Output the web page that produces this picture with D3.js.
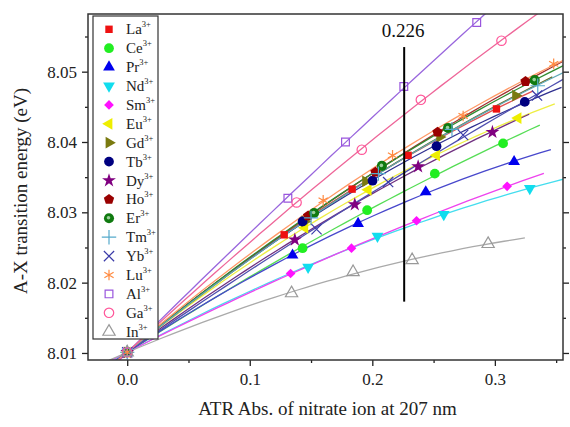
<!DOCTYPE html>
<html><head><meta charset="utf-8">
<script src="https://cdn.jsdelivr.net/npm/d3@7"></script>
<style>body{margin:0;background:#fff}svg{display:block}</style>
</head><body>
<svg id="c" width="570" height="427"></svg>
<script>
const seriesNames = ["La","Ce","Pr","Nd","Sm","Eu","Gd","Tb","Dy","Ho","Er","Tm","Yb","Lu","Al","Ga","In"];
const seriesX = [
  [0,0.1281,0.1835,0.2292,0.3013],
  [0,0.1431,0.1958,0.2510,0.3067],
  [0,0.1349,0.1884,0.2436,0.3157],
  [0,0.1476,0.2042,0.2583,0.3285],
  [0,0.1333,0.1830,0.2361,0.3100],
  [0,0.1449,0.1966,0.2524,0.3189],
  [0,0.1449,0.1945,0.2550,0.3169],
  [0,0.1431,0.2002,0.2524,0.3244],
  [0,0.1368,0.1857,0.2374,0.2980],
  [0,0.1476,0.2026,0.2532,0.3250],
  [0,0.1525,0.2078,0.2618,0.3325],
  [0,0.1500,0.2050,0.2650,0.3350],
  [0,0.1545,0.2129,0.2741,0.3344],
  [0,0.1599,0.2165,0.2741,0.3480],
  [0,0.1311,0.1781,0.2257,0.2852],
  [0,0.1382,0.1914,0.2396,0.3054],
  [0,0.1341,0.1843,0.2325,0.2945]
];
const seriesY = [
  [8.0101,8.0268,8.0333,8.0381,8.0447],
  [8.0101,8.0249,8.0303,8.0355,8.0398],
  [8.0101,8.0239,8.0284,8.0329,8.0372],
  [8.0101,8.0222,8.0266,8.0297,8.0334],
  [8.0101,8.0213,8.0249,8.0288,8.0337],
  [8.0101,8.0278,8.0332,8.0381,8.0434],
  [8.0101,8.0287,8.0344,8.0407,8.0466],
  [8.0101,8.0287,8.0345,8.0394,8.0457],
  [8.0101,8.0261,8.0311,8.0365,8.0414],
  [8.0101,8.0295,8.0357,8.0414,8.0486],
  [8.0101,8.0299,8.0366,8.0420,8.0488],
  [8.0101,8.0292,8.0355,8.0418,8.0480],
  [8.0101,8.0276,8.0343,8.0410,8.0466],
  [8.0101,8.0317,8.0381,8.0437,8.0511],
  [8.0101,8.0320,8.0400,8.0479,8.0570],
  [8.0101,8.0314,8.0389,8.0460,8.0544],
  [8.0101,8.0185,8.0215,8.0232,8.0255]
];
const markerColors = ["#ee1111","#22ee22","#0000ee","#11ddee","#ff11ff","#eeee00","#7a7a10","#000080","#800080","#990000","#107a10","#55aacc","#3a3aa8","#ff8a40","#9955dd","#ff5599","#999999"];
const lineColors   = ["#e05050","#55dd55","#4848cc","#44ddee","#ee44ee","#eeee44","#6a6a20","#303090","#703080","#a03030","#308a30","#60a8b8","#5050b0","#ff9966","#9966dd","#ee6699","#aaaaaa"];
const xTicks = [0.0,0.1,0.2,0.3];
const yTicks = [8.01,8.02,8.03,8.04,8.05];
const markLineX = 0.226;
const markLineY = [8.0173, 8.0535];

const svg = d3.select("#c");
const L=88,R=563,T=14,B=360;
const x = d3.scaleLinear().domain([-0.032,0.3556]).range([L,R]);
const y = d3.scaleLinear().domain([8.009,8.0582]).range([B,T]);
const font = "'Liberation Serif','Times New Roman',serif";

svg.append("defs").append("clipPath").attr("id","clip")
  .append("rect").attr("x",L).attr("y",T).attr("width",R-L).attr("height",B-T);

// axes
const fmtX = d3.format(".1f"), fmtY = d3.format(".2f");
const xAx = svg.append("g").attr("transform",`translate(0,${B})`)
  .call(d3.axisBottom(x).tickValues(xTicks).tickFormat(fmtX).tickSize(6).tickPadding(7));
const xMin = svg.append("g").attr("transform",`translate(0,${B})`)
  .call(d3.axisBottom(x).tickValues([-0.05,0.05,0.15,0.25,0.35].filter(v=>v>=-0.032)).tickFormat("").tickSize(3));
const yAx = svg.append("g").attr("transform",`translate(${L},0)`)
  .call(d3.axisLeft(y).tickValues(yTicks).tickFormat(fmtY).tickSize(6).tickPadding(5));
const yMin = svg.append("g").attr("transform",`translate(${L},0)`)
  .call(d3.axisLeft(y).tickValues([8.015,8.025,8.035,8.045,8.055]).tickFormat("").tickSize(3));
const yR = svg.append("g").attr("transform",`translate(${R},0)`)
  .call(d3.axisRight(y).tickValues(yTicks).tickFormat("").tickSize(6));
const yRm = svg.append("g").attr("transform",`translate(${R},0)`)
  .call(d3.axisRight(y).tickValues([8.015,8.025,8.035,8.045,8.055]).tickFormat("").tickSize(3));
[xAx,xMin,yAx,yMin,yR,yRm].forEach(g=>{
  g.select(".domain").remove();
  g.selectAll("line").attr("stroke","#222").attr("stroke-width",1.3);
  g.selectAll("text").attr("font-family",font).attr("font-size",17).attr("fill","#222");
});

// fit curves (quadratic least squares through the points)
function quadFit(xs,ys){
  let S=[0,0,0,0,0],Ty=[0,0,0];
  xs.forEach((xv,i)=>{for(let k=0;k<5;k++)S[k]+=Math.pow(xv,k);for(let k=0;k<3;k++)Ty[k]+=ys[i]*Math.pow(xv,k);});
  const M=[[S[0],S[1],S[2],Ty[0]],[S[1],S[2],S[3],Ty[1]],[S[2],S[3],S[4],Ty[2]]];
  for(let i=0;i<3;i++){for(let j=i+1;j<3;j++){const f=M[j][i]/M[i][i];for(let k=i;k<4;k++)M[j][k]-=f*M[i][k];}}
  const c=[0,0,0];
  for(let i=2;i>=0;i--){let s=M[i][3];for(let k=i+1;k<3;k++)s-=M[i][k]*c[k];c[i]=s/M[i][i];}
  return c;
}
const plot = svg.append("g").attr("clip-path","url(#clip)");
const lineGen = d3.line().x(d=>x(d[0])).y(d=>y(d[1]));
seriesNames.forEach((n,i)=>{
  const xs=seriesX[i], ys=seriesY[i];
  const c=quadFit(xs,ys);
  const x0=-0.015, x1=d3.max(xs)+0.03;
  const pts=d3.range(0,41).map(k=>{const xv=x0+(x1-x0)*k/40;return [xv,c[0]+c[1]*xv+c[2]*xv*xv];});
  plot.append("path").attr("d",lineGen(pts)).attr("fill","none")
    .attr("stroke",lineColors[i]).attr("stroke-width",1.3);
});

// symbols
const pentagon = {draw(ctx,size){const r=Math.sqrt(size/2.38);for(let k=0;k<5;k++){const a=-Math.PI/2+k*2*Math.PI/5;const px=r*Math.cos(a),py=r*Math.sin(a);k?ctx.lineTo(px,py):ctx.moveTo(px,py);}ctx.closePath();}};
const symSpec = [
  {t:d3.symbolSquare,s:55,fill:true},
  {t:d3.symbolCircle,s:75,fill:true},
  {t:d3.symbolTriangle,s:60,fill:true},
  {t:d3.symbolTriangle,s:60,fill:true,rot:180},
  {t:d3.symbolDiamond2,s:60,fill:true},
  {t:d3.symbolTriangle,s:60,fill:true,rot:-90},
  {t:d3.symbolTriangle,s:60,fill:true,rot:90},
  {t:d3.symbolCircle,s:75,fill:true},
  {t:d3.symbolStar,s:60,fill:true},
  {t:pentagon,s:70,fill:true},
  {t:d3.symbolCircle,s:80,fill:true,er:true},
  {t:d3.symbolPlus,s:70,fill:false},
  {t:d3.symbolTimes,s:70,fill:false},
  {t:d3.symbolAsterisk,s:80,fill:false},
  {t:d3.symbolSquare,s:60,fill:false},
  {t:d3.symbolCircle,s:70,fill:false},
  {t:d3.symbolTriangle,s:65,fill:false}
];
function drawSym(g,i,cx,cy){
  const sp=symSpec[i];
  const p=g.append("path").attr("d",d3.symbol(sp.t,sp.s)())
    .attr("transform",`translate(${cx},${cy})`+(sp.rot?` rotate(${sp.rot})`:""));
  if(sp.fill){p.attr("fill",markerColors[i]).attr("stroke","none");}
  else{p.attr("fill","none").attr("stroke",markerColors[i]).attr("stroke-width",1.2);}
  if(sp.er){g.append("circle").attr("cx",cx-0.5).attr("cy",cy-0.5).attr("r",1.8).attr("fill","#9ad09a");}
}
seriesNames.forEach((n,i)=>{
  const g=plot.append("g");
  seriesX[i].forEach((xv,j)=>drawSym(g,i,x(xv),y(seriesY[i][j])));
});

// frame
svg.append("rect").attr("x",L).attr("y",T).attr("width",R-L).attr("height",B-T)
  .attr("fill","none").attr("stroke","#333").attr("stroke-width",1.5);

// marker line
svg.append("line").attr("x1",x(markLineX)).attr("x2",x(markLineX))
  .attr("y1",y(markLineY[0])).attr("y2",y(markLineY[1])).attr("stroke","#000").attr("stroke-width",2);
svg.append("text").attr("x",x(markLineX)-1).attr("y",y(markLineY[1])-10).attr("text-anchor","middle")
  .attr("font-family",font).attr("font-size",19).attr("fill","#111").text(markLineX.toFixed(3));

// legend
const lg=svg.append("g");
lg.append("rect").attr("x",93).attr("y",16).attr("width",65).attr("height",323)
  .attr("fill","#fff").attr("stroke","#333").attr("stroke-width",1.2);
seriesNames.forEach((n,i)=>{
  const cy=29.3+i*18.9;
  drawSym(lg,i,109,cy);
  const t=lg.append("text").attr("x",126).attr("y",cy+5).attr("font-family",font)
    .attr("font-size",15).attr("fill","#222");
  t.append("tspan").text(n);
  t.append("tspan").attr("dy",-7).attr("font-size",8.5).text("3+");
});

// axis titles
svg.append("text").attr("x",(L+R)/2+2).attr("y",415).attr("text-anchor","middle")
  .attr("font-family",font).attr("font-size",19).attr("fill","#222").text("ATR Abs. of nitrate ion at 207 nm");
svg.append("text").attr("transform",`translate(27,${(T+B)/2+4}) rotate(-90)`).attr("text-anchor","middle")
  .attr("font-family",font).attr("font-size",19).attr("fill","#222").text("A-X transition energy (eV)");
</script>
</body></html>
